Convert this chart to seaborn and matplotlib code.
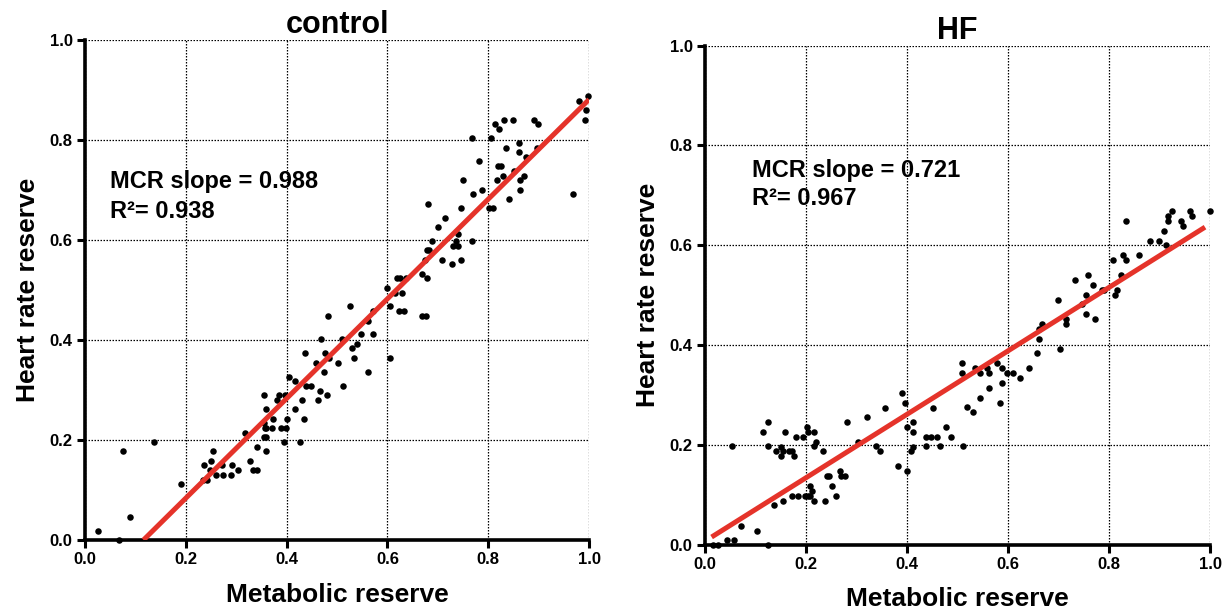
import numpy as np
import pandas as pd
import seaborn as sns
import matplotlib.pyplot as plt


# control group
ctrl_x = [0.026, 0.068, 0.089, 0.076, 0.136, 0.19, 0.235, 0.241, 0.236, 0.249,
          0.253, 0.247, 0.26, 0.271, 0.274, 0.289, 0.292, 0.303, 0.317, 0.327,
          0.334, 0.342, 0.342, 0.356, 0.36, 0.356, 0.357, 0.36, 0.37, 0.372,
          0.356, 0.36, 0.36, 0.38, 0.385, 0.388, 0.395, 0.399, 0.397, 0.401,
          0.405, 0.417, 0.417, 0.427, 0.431, 0.434, 0.437, 0.438, 0.448, 0.459,
          0.463, 0.466, 0.474, 0.48, 0.476, 0.485, 0.469, 0.483, 0.501,
          0.509, 0.512, 0.526, 0.53, 0.533, 0.54, 0.548, 0.562, 0.571, 0.562,
          0.572, 0.6, 0.605, 0.605, 0.615, 0.622, 0.628, 0.632, 0.668, 0.676,
          0.618, 0.624, 0.636, 0.668, 0.679, 0.675, 0.681, 0.679, 0.682, 0.689,
          0.7, 0.708, 0.714, 0.728, 0.731, 0.739, 0.735, 0.739, 0.746, 0.746,
          0.749, 0.767, 0.767, 0.77, 0.782, 0.788, 0.802, 0.81, 0.806, 0.813,
          0.821, 0.817, 0.82, 0.825, 0.831, 0.83, 0.835, 0.842, 0.849, 0.851,
          0.86, 0.86, 0.862, 0.863, 0.87, 0.874, 0.891, 0.899, 0.897, 0.969,
          0.98, 0.997, 0.993, 0.991]
ctrl_y = [0.018, 0.0, 0.046, 0.177, 0.195, 0.111, 0.12, 0.12, 0.149, 0.158,
          0.177, 0.139, 0.13, 0.149, 0.13, 0.13, 0.149, 0.139, 0.214, 0.158,
          0.139, 0.139, 0.186, 0.289, 0.261, 0.233, 0.223, 0.223, 0.223, 0.242,
          0.205, 0.205, 0.177, 0.279, 0.289, 0.223, 0.195, 0.223, 0.289, 0.242,
          0.326, 0.317, 0.261, 0.195, 0.279, 0.242, 0.373, 0.307, 0.307, 0.354,
          0.279, 0.298, 0.335, 0.289, 0.373, 0.363, 0.401, 0.448, 0.354,
          0.401, 0.307, 0.467, 0.383, 0.363, 0.392, 0.411, 0.438, 0.457, 0.335,
          0.411, 0.504, 0.467, 0.363, 0.494, 0.457, 0.494, 0.457, 0.448, 0.448,
          0.523, 0.523, 0.523, 0.532, 0.523, 0.56, 0.672, 0.579, 0.579, 0.597,
          0.625, 0.56, 0.644, 0.551, 0.588, 0.588, 0.597, 0.612, 0.56, 0.663,
          0.719, 0.597, 0.803, 0.691, 0.757, 0.7, 0.663, 0.663, 0.803, 0.831,
          0.821, 0.719, 0.747, 0.747, 0.84, 0.728, 0.784, 0.681, 0.84, 0.737,
          0.793, 0.775, 0.719, 0.7, 0.728, 0.765, 0.84, 0.831, 0.784, 0.691,
          0.878, 0.887, 0.859, 0.84]

# HF group
hf_x = [0.015, 0.026, 0.044, 0.057, 0.054, 0.071, 0.102, 0.124, 0.115, 0.124,
        0.124, 0.137, 0.141, 0.15, 0.15, 0.155, 0.154, 0.158, 0.167, 0.172,
        0.176, 0.172, 0.185, 0.18, 0.193, 0.198, 0.203, 0.208, 0.201, 0.203,
        0.207, 0.212, 0.215, 0.215, 0.216, 0.22, 0.233, 0.237, 0.241, 0.246,
        0.251, 0.259, 0.267, 0.269, 0.277, 0.281, 0.303, 0.321, 0.339, 0.347,
        0.356, 0.382, 0.39, 0.395, 0.399, 0.4, 0.408, 0.411, 0.412, 0.412,
        0.438, 0.448, 0.438, 0.452, 0.459, 0.465, 0.478, 0.487,
        0.51, 0.509, 0.509, 0.518, 0.531, 0.535, 0.544, 0.545, 0.558, 0.562,
        0.562, 0.579, 0.584, 0.588, 0.588, 0.597, 0.61, 0.623, 0.641, 0.658,
        0.662, 0.662, 0.667, 0.698, 0.702, 0.715, 0.715, 0.733, 0.746, 0.754,
        0.754, 0.759, 0.768, 0.772, 0.786, 0.789, 0.807, 0.811, 0.815, 0.824,
        0.828, 0.833, 0.833, 0.859, 0.881, 0.899, 0.908, 0.912, 0.917, 0.917,
        0.925, 0.943, 0.947, 0.96, 0.965, 1.0]
hf_y = [0.0, 0.0, 0.009, 0.009, 0.197, 0.038, 0.028, 0.0, 0.225, 0.245,
        0.197, 0.079, 0.187, 0.195, 0.177, 0.187, 0.088, 0.225, 0.187, 0.187,
        0.177, 0.097, 0.097, 0.215, 0.215, 0.097, 0.097, 0.097, 0.235, 0.225,
        0.117, 0.107, 0.225, 0.088, 0.197, 0.206, 0.187, 0.088, 0.137, 0.137,
        0.117, 0.097, 0.147, 0.137, 0.137, 0.245, 0.206, 0.255, 0.197, 0.187,
        0.274, 0.157, 0.304, 0.284, 0.235, 0.147, 0.187, 0.195, 0.225, 0.245,
        0.215, 0.215, 0.197, 0.274, 0.215, 0.197, 0.235, 0.215,
        0.197, 0.363, 0.343, 0.275, 0.265, 0.353, 0.294, 0.343, 0.353, 0.343,
        0.314, 0.363, 0.284, 0.353, 0.324, 0.343, 0.343, 0.333, 0.353, 0.383,
        0.412, 0.432, 0.442, 0.491, 0.392, 0.452, 0.442, 0.531, 0.481, 0.501,
        0.461, 0.54, 0.521, 0.452, 0.511, 0.511, 0.57, 0.501, 0.511, 0.54,
        0.58, 0.57, 0.648, 0.58, 0.609, 0.609, 0.628, 0.6, 0.648, 0.658,
        0.668, 0.648, 0.638, 0.668, 0.658, 0.668]

# fitted lines as drawn in the figure
ctrl_fit_x = [0.116, 1.0]
ctrl_fit_y = [0.0, 0.881]
hf_fit_x = [0.013, 0.99]
hf_fit_y = [0.015, 0.636]

panels = [
    ('control', ctrl_x, ctrl_y, ctrl_fit_x, ctrl_fit_y,
     'MCR slope = 0.988', 'R\u00b2= 0.938', (0.05, 0.716, 0.656)),
    ('HF', hf_x, hf_y, hf_fit_x, hf_fit_y,
     'MCR slope = 0.721', 'R\u00b2= 0.967', (0.093, 0.75, 0.694)),
]

sns.set_style('white')
plt.rcParams['font.family'] = ['Liberation Sans', 'DejaVu Sans']
plt.rcParams['font.weight'] = 'bold'
plt.rcParams['text.color'] = 'black'
plt.rcParams['axes.labelcolor'] = 'black'
plt.rcParams['xtick.color'] = 'black'
plt.rcParams['ytick.color'] = 'black'

fig = plt.figure(figsize=(12.27, 6.15), dpi=100)
axes = [fig.add_axes([0.0693, 0.122, 0.4108, 0.813]),
        fig.add_axes([0.5746, 0.1146, 0.4116, 0.8114])]

red = '#e5332a'
ticks = ['0.0', '0.2', '0.4', '0.6', '0.8', '1.0']

for ax, (title, x, y, fx, fy, slope_txt, r2_txt, pos) in zip(axes, panels):
    pts = pd.DataFrame({'x': x, 'y': y})
    fit = pd.DataFrame({'x': fx, 'y': fy})

    sns.scatterplot(data=pts, x='x', y='y', ax=ax, color='black', s=22,
                    linewidth=0, zorder=3, clip_on=False)
    sns.lineplot(data=fit, x='x', y='y', ax=ax, color=red, linewidth=3.6,
                 zorder=4, solid_capstyle='butt')

    ax.set_xlim(0, 1.0)
    ax.set_ylim(0, 1.0)
    ax.set_xticks(np.arange(0, 1.01, 0.2))
    ax.set_yticks(np.arange(0, 1.01, 0.2))
    ax.set_xticklabels(ticks, fontsize=12, fontweight='bold')
    ax.set_yticklabels(ticks, fontsize=12, fontweight='bold')

    # dotted grid, including the lines at 1.0
    ax.grid(True, linestyle=(0, (1.2, 1.2)), color='black', linewidth=0.9)
    ax.set_axisbelow(True)

    for s in ['top', 'right']:
        ax.spines[s].set_visible(False)
    for s in ['left', 'bottom']:
        ax.spines[s].set_linewidth(2.6)
        ax.spines[s].set_color('black')
    ax.tick_params(axis='both', direction='out', length=6, width=2.2,
                   color='black', pad=3, bottom=True, left=True)

    ax.set_xlabel('Metabolic reserve', fontsize=19, fontweight='bold',
                  labelpad=11)
    ax.set_ylabel('Heart rate reserve', fontsize=19, fontweight='bold',
                  labelpad=7)
    ax.set_title(title, fontsize=22, fontweight='bold', pad=5)

    ax.text(pos[0], pos[1], slope_txt, fontsize=17, fontweight='bold',
            va='center', ha='left')
    ax.text(pos[0], pos[2], r2_txt, fontsize=17, fontweight='bold',
            va='center', ha='left')

fig.savefig('out.png', dpi=100)
